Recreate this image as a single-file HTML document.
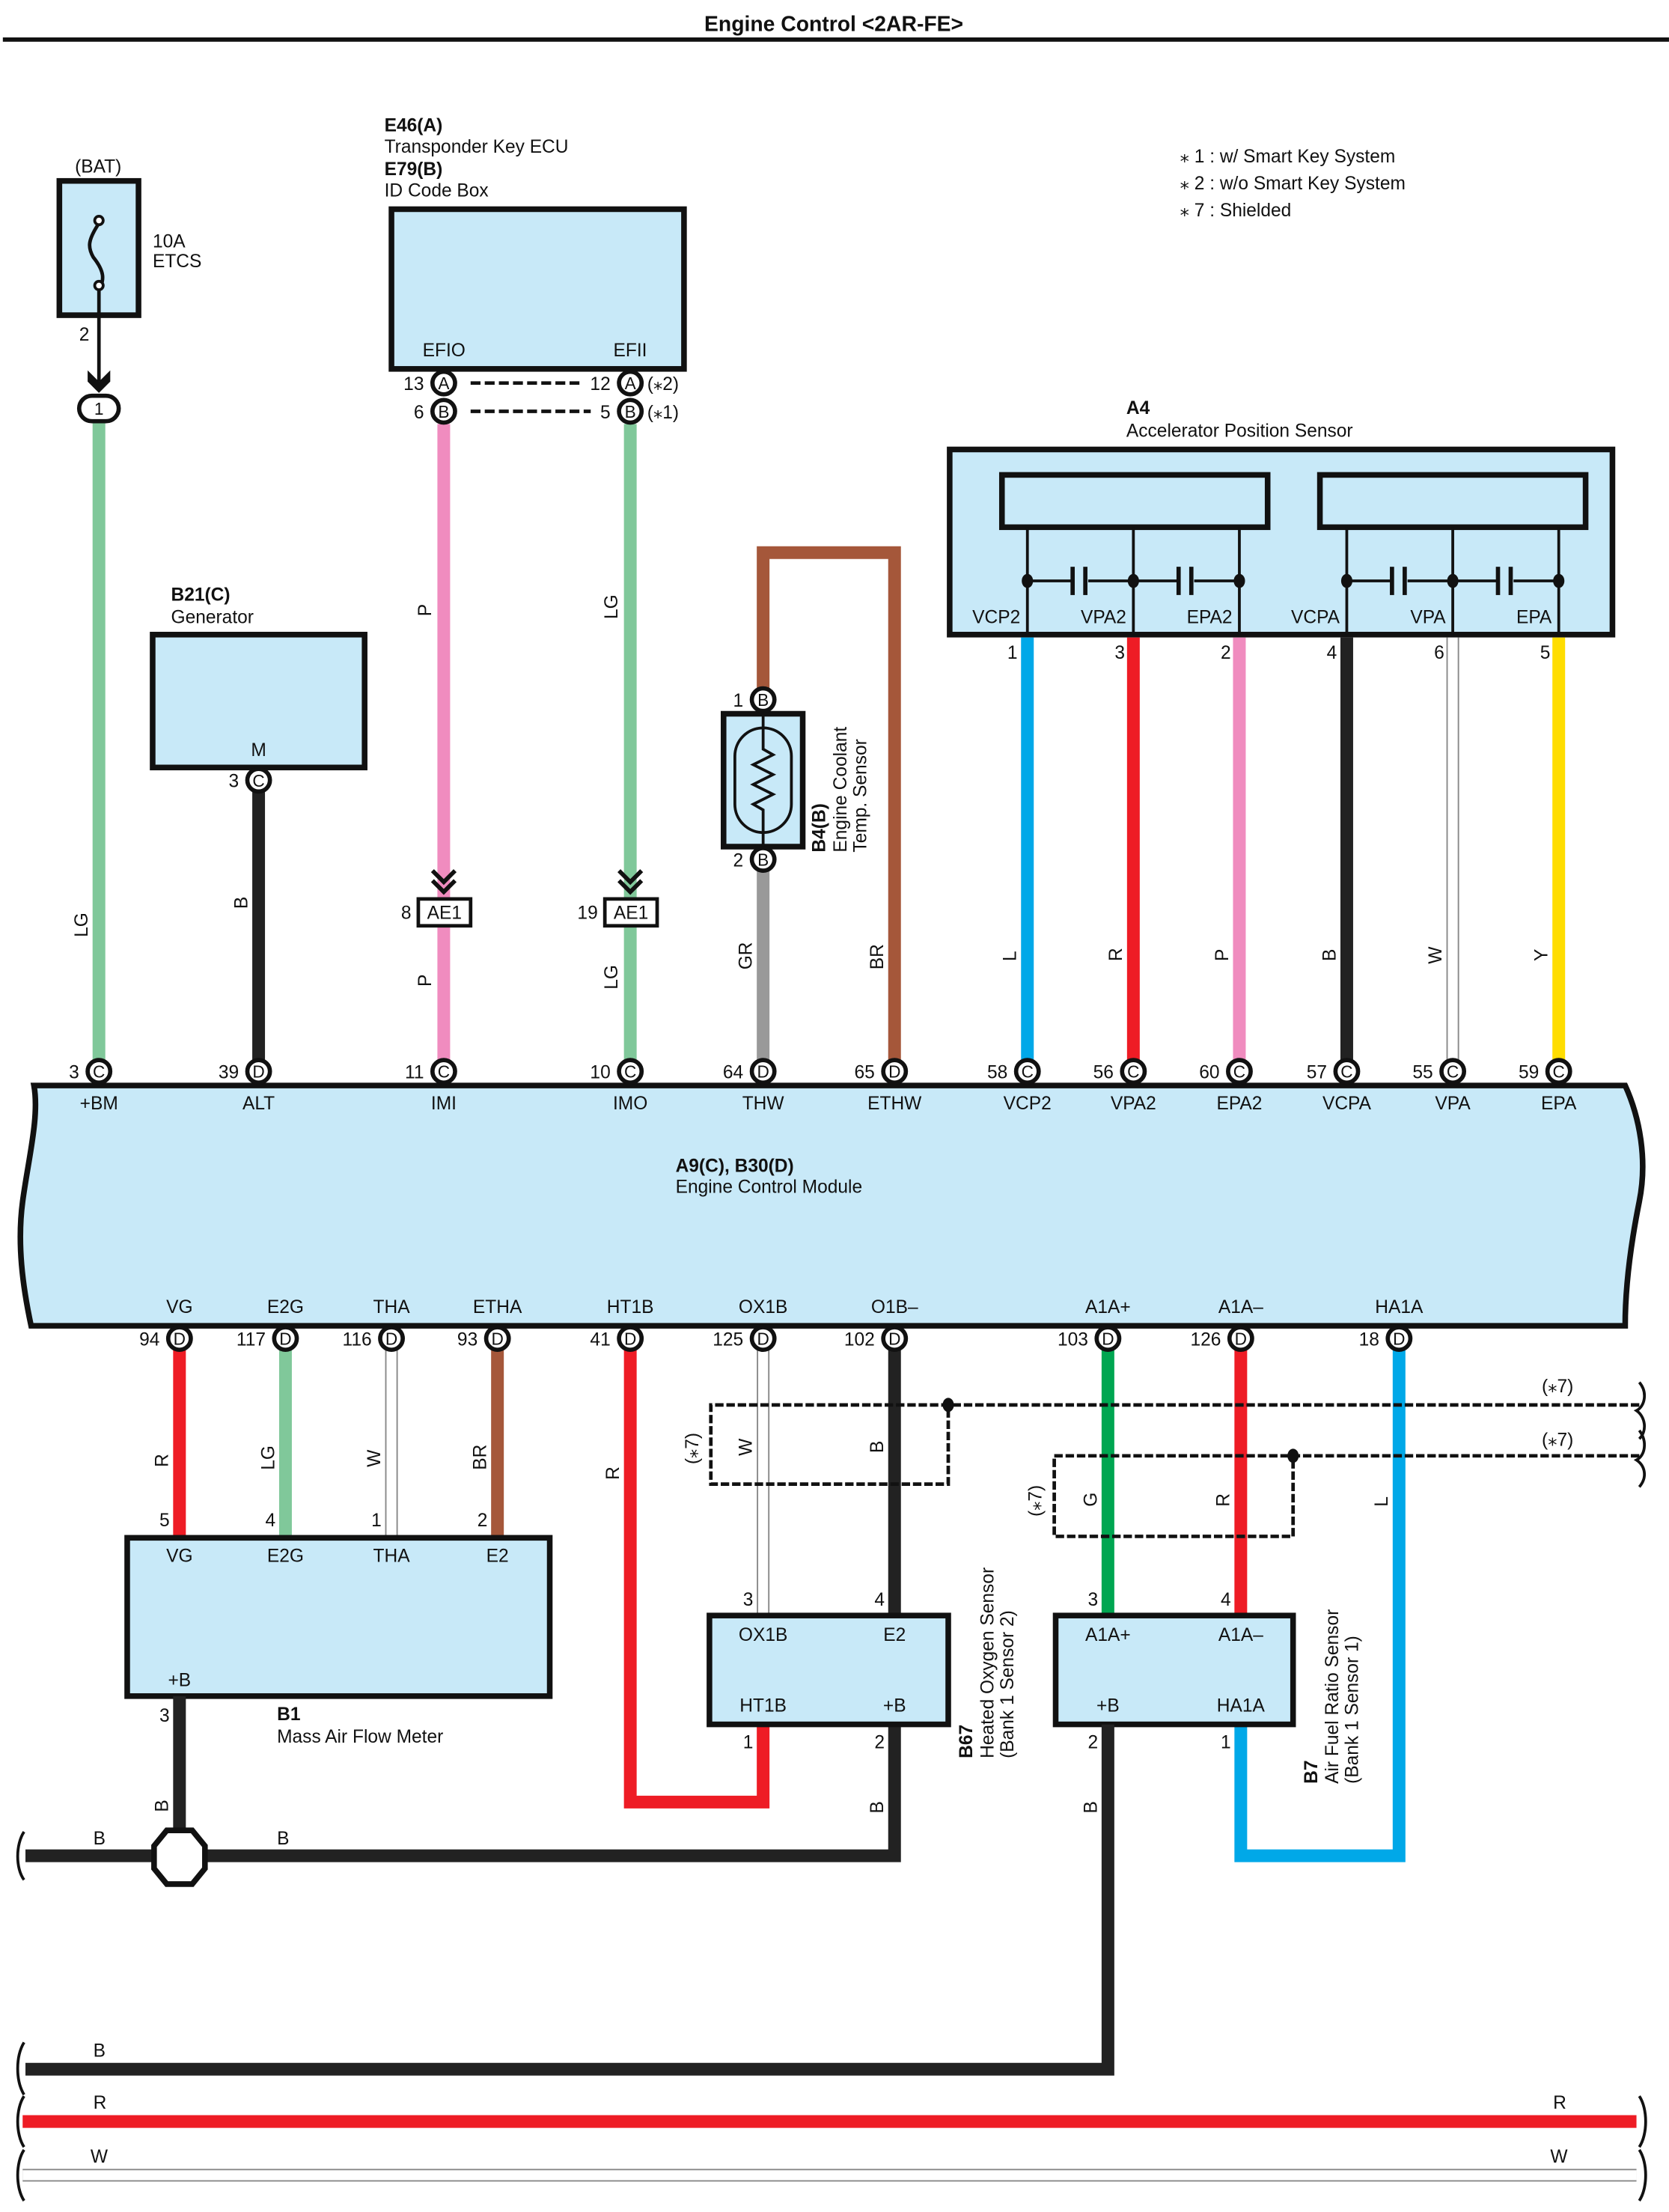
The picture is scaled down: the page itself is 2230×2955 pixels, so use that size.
<!DOCTYPE html>
<html><head><meta charset="utf-8"><style>
html,body{margin:0;padding:0;background:#fff}
svg{display:block}
text{font-family:"Liberation Sans",sans-serif;font-size:13px;fill:#111}
.b{font-weight:bold}
.c{text-anchor:middle}
.e{text-anchor:end}
</style></head><body>
<svg width="2230" height="2955" viewBox="0 0 1181 1565" xmlns="http://www.w3.org/2000/svg">
<defs>
<g id="pc"><circle r="8" fill="#fff" stroke="#111" stroke-width="3"/><text y="4.5" class="c" style="font-size:12px">C</text></g>
<g id="pd"><circle r="8" fill="#fff" stroke="#111" stroke-width="3"/><text y="4.5" class="c" style="font-size:12px">D</text></g>
<g id="pa"><circle r="8" fill="#fff" stroke="#111" stroke-width="3"/><text y="4.5" class="c" style="font-size:12px">A</text></g>
<g id="pb"><circle r="8" fill="#fff" stroke="#111" stroke-width="3"/><text y="4.5" class="c" style="font-size:12px">B</text></g>
</defs>
<text x="590" y="22" class="c b" style="font-size:15px">Engine Control &lt;2AR-FE&gt;</text>
<line x1="2" y1="28" x2="1181" y2="28" stroke="#111" stroke-width="3"/>

<text x="835" y="115">⁎ 1 : w/ Smart Key System</text>
<text x="835" y="134">⁎ 2 : w/o Smart Key System</text>
<text x="835" y="153">⁎ 7 : Shielded</text>

<!-- BAT fuse -->
<text x="53" y="122">(BAT)</text>
<rect x="42" y="128" width="56" height="95" fill="#c8e9f8" stroke="#111" stroke-width="4"/>
<path d="M70 158 C62 170 62 175 66 182 C74 192 74 198 70 205" fill="none" stroke="#111" stroke-width="2.5"/>
<circle cx="70" cy="156" r="3" fill="#fff" stroke="#111" stroke-width="2"/>
<circle cx="70" cy="202" r="3" fill="#fff" stroke="#111" stroke-width="2"/>
<text x="108" y="175">10A</text><text x="108" y="189">ETCS</text>
<line x1="70" y1="205" x2="70" y2="270" stroke="#111" stroke-width="2.5"/>
<text x="56" y="241">2</text>
<path d="M62 262 L70 270 L78 262 L78 270 L70 278 L62 270Z" fill="#111"/>
<line x1="70" y1="298" x2="70" y2="758" stroke="#80c89a" stroke-width="9"/>
<rect x="56" y="280" width="28" height="18" rx="9" fill="#fff" stroke="#111" stroke-width="3"/>
<text x="70" y="293.5" class="c" style="font-size:12px">1</text>
<text transform="translate(62 663) rotate(-90)">LG</text>

<!-- E46 -->
<text x="272" y="93" class="b">E46(A)</text>
<text x="272" y="108">Transponder Key ECU</text>
<text x="272" y="124" class="b">E79(B)</text>
<text x="272" y="139">ID Code Box</text>
<rect x="277" y="148" width="207" height="113" fill="#c8e9f8" stroke="#111" stroke-width="4"/>
<text x="299" y="252">EFIO</text><text x="434" y="252">EFII</text>
<line x1="333" y1="271" x2="410" y2="271" stroke="#111" stroke-width="2.5" stroke-dasharray="7 3"/>
<line x1="333" y1="291" x2="418" y2="291" stroke="#111" stroke-width="2.5" stroke-dasharray="7 3"/>
<line x1="314" y1="300" x2="314" y2="758" stroke="#f08cbf" stroke-width="9"/>
<line x1="446" y1="300" x2="446" y2="758" stroke="#80c89a" stroke-width="9"/>
<use href="#pa" x="314" y="271"/><use href="#pb" x="314" y="291"/>
<use href="#pa" x="446" y="271"/><use href="#pb" x="446" y="291"/>
<text x="300" y="276" class="e">13</text><text x="300" y="296" class="e">6</text>
<text x="432" y="276" class="e">12</text><text x="432" y="296" class="e">5</text>
<text x="458" y="276">(⁎2)</text><text x="458" y="296">(⁎1)</text>
<text transform="translate(305 436) rotate(-90)">P</text>
<text transform="translate(437 438) rotate(-90)">LG</text>
<path d="M306 616 L314 624 L322 616 M306 623 L314 631 L322 623" fill="none" stroke="#111" stroke-width="3"/>
<path d="M438 616 L446 624 L454 616 M438 623 L446 631 L454 623" fill="none" stroke="#111" stroke-width="3"/>
<rect x="296" y="636" width="37" height="19" fill="#fff" stroke="#111" stroke-width="2.5"/>
<text x="314.5" y="650" class="c">AE1</text><text x="291" y="650" class="e">8</text>
<rect x="428" y="636" width="37" height="19" fill="#fff" stroke="#111" stroke-width="2.5"/>
<text x="446.5" y="650" class="c">AE1</text><text x="423" y="650" class="e">19</text>
<text transform="translate(305 698) rotate(-90)">P</text>
<text transform="translate(437 700) rotate(-90)">LG</text>

<!-- B21 generator -->
<text x="121" y="425" class="b">B21(C)</text><text x="121" y="441">Generator</text>
<rect x="108" y="449" width="150" height="94" fill="#c8e9f8" stroke="#111" stroke-width="4"/>
<text x="183" y="535" class="c">M</text>
<line x1="183" y1="552" x2="183" y2="758" stroke="#222" stroke-width="9"/>
<use href="#pc" x="183" y="552"/><text x="169" y="557" class="e">3</text>
<text transform="translate(175 643) rotate(-90)">B</text>

<!-- B4 -->
<path d="M540 495 L540 391 L633 391 L633 758" fill="none" stroke="#a5573a" stroke-width="9"/>
<line x1="540" y1="608" x2="540" y2="758" stroke="#999" stroke-width="9"/>
<rect x="512" y="505" width="56" height="94" fill="#c8e9f8" stroke="#111" stroke-width="4"/>
<rect x="520" y="515" width="40" height="74" rx="20" fill="none" stroke="#111" stroke-width="2"/>
<path d="M540 505 L540 530 L547 534 L533 541 L547 548 L533 555 L547 562 L533 569 L540 573 L540 599" fill="none" stroke="#111" stroke-width="2"/>
<use href="#pb" x="540" y="495"/><use href="#pb" x="540" y="608"/>
<text x="526" y="500" class="e">1</text><text x="526" y="613" class="e">2</text>
<text transform="translate(584 603) rotate(-90)" class="b">B4(B)</text>
<text transform="translate(599 603) rotate(-90)">Engine Coolant</text>
<text transform="translate(613 603) rotate(-90)">Temp.  Sensor</text>
<text transform="translate(532 686) rotate(-90)">GR</text>
<text transform="translate(625 686) rotate(-90)">BR</text>

<!-- A4 -->
<text x="797" y="293" class="b">A4</text><text x="797" y="309">Accelerator Position Sensor</text>
<rect x="672" y="318" width="469" height="131" fill="#c8e9f8" stroke="#111" stroke-width="4"/>
<rect x="709" y="336" width="188" height="37" fill="none" stroke="#111" stroke-width="4"/>
<rect x="934" y="336" width="188" height="37" fill="none" stroke="#111" stroke-width="4"/>
<g stroke="#111" stroke-width="2">
<line x1="727" y1="373" x2="727" y2="449"/><line x1="802" y1="373" x2="802" y2="449"/><line x1="877" y1="373" x2="877" y2="449"/>
<line x1="953" y1="373" x2="953" y2="449"/><line x1="1028" y1="373" x2="1028" y2="449"/><line x1="1103" y1="373" x2="1103" y2="449"/>
<line x1="727" y1="411" x2="759" y2="411"/><line x1="770" y1="411" x2="802" y2="411"/>
<line x1="802" y1="411" x2="834" y2="411"/><line x1="845" y1="411" x2="877" y2="411"/>
<line x1="953" y1="411" x2="985" y2="411"/><line x1="996" y1="411" x2="1028" y2="411"/>
<line x1="1028" y1="411" x2="1060" y2="411"/><line x1="1071" y1="411" x2="1103" y2="411"/>
</g>
<g stroke="#111" stroke-width="3">
<line x1="759" y1="401" x2="759" y2="421"/><line x1="768" y1="401" x2="768" y2="421"/>
<line x1="834" y1="401" x2="834" y2="421"/><line x1="843" y1="401" x2="843" y2="421"/>
<line x1="985" y1="401" x2="985" y2="421"/><line x1="994" y1="401" x2="994" y2="421"/>
<line x1="1060" y1="401" x2="1060" y2="421"/><line x1="1069" y1="401" x2="1069" y2="421"/>
</g>
<g fill="#111"><ellipse cx="727" cy="411" rx="4" ry="5"/><ellipse cx="802" cy="411" rx="4" ry="5"/><ellipse cx="877" cy="411" rx="4" ry="5"/><ellipse cx="953" cy="411" rx="4" ry="5"/><ellipse cx="1028" cy="411" rx="4" ry="5"/><ellipse cx="1103" cy="411" rx="4" ry="5"/></g>
<text x="722" y="441" class="e">VCP2</text><text x="797" y="441" class="e">VPA2</text><text x="872" y="441" class="e">EPA2</text>
<text x="948" y="441" class="e">VCPA</text><text x="1023" y="441" class="e">VPA</text><text x="1098" y="441" class="e">EPA</text>
<line x1="727" y1="451" x2="727" y2="758" stroke="#00a8e8" stroke-width="9"/>
<line x1="802" y1="451" x2="802" y2="758" stroke="#ee1c25" stroke-width="9"/>
<line x1="877" y1="451" x2="877" y2="758" stroke="#f08cbf" stroke-width="9"/>
<line x1="953" y1="451" x2="953" y2="758" stroke="#222" stroke-width="9"/>
<line x1="1028" y1="451" x2="1028" y2="758" stroke="#888" stroke-width="9"/>
<line x1="1028" y1="451" x2="1028" y2="758" stroke="#fff" stroke-width="7"/>
<line x1="1103" y1="451" x2="1103" y2="758" stroke="#ffdd00" stroke-width="9"/>
<text x="720" y="466" class="e">1</text><text x="796" y="466" class="e">3</text><text x="871" y="466" class="e">2</text>
<text x="946" y="466" class="e">4</text><text x="1022" y="466" class="e">6</text><text x="1097" y="466" class="e">5</text>
<text transform="translate(719 680) rotate(-90)">L</text>
<text transform="translate(794 680) rotate(-90)">R</text>
<text transform="translate(869 680) rotate(-90)">P</text>
<text transform="translate(945 680) rotate(-90)">B</text>
<text transform="translate(1020 682) rotate(-90)">W</text>
<text transform="translate(1095 680) rotate(-90)">Y</text>

<!-- ECM -->
<path d="M24 768 L1150 768 C1160 790 1166 820 1160 850 C1154 880 1150 910 1150 938 L22 938 C16 910 12 880 16 850 C20 820 28 790 24 768Z" fill="#c8e9f8" stroke="#111" stroke-width="4"/>
<g>
<use href="#pc" x="70" y="758"/><text x="56" y="763" class="e">3</text><text x="70" y="785" class="c">+BM</text>
<use href="#pd" x="183" y="758"/><text x="169" y="763" class="e">39</text><text x="183" y="785" class="c">ALT</text>
<use href="#pc" x="314" y="758"/><text x="300" y="763" class="e">11</text><text x="314" y="785" class="c">IMI</text>
<use href="#pc" x="446" y="758"/><text x="432" y="763" class="e">10</text><text x="446" y="785" class="c">IMO</text>
<use href="#pd" x="540" y="758"/><text x="526" y="763" class="e">64</text><text x="540" y="785" class="c">THW</text>
<use href="#pd" x="633" y="758"/><text x="619" y="763" class="e">65</text><text x="633" y="785" class="c">ETHW</text>
<use href="#pc" x="727" y="758"/><text x="713" y="763" class="e">58</text><text x="727" y="785" class="c">VCP2</text>
<use href="#pc" x="802" y="758"/><text x="788" y="763" class="e">56</text><text x="802" y="785" class="c">VPA2</text>
<use href="#pc" x="877" y="758"/><text x="863" y="763" class="e">60</text><text x="877" y="785" class="c">EPA2</text>
<use href="#pc" x="953" y="758"/><text x="939" y="763" class="e">57</text><text x="953" y="785" class="c">VCPA</text>
<use href="#pc" x="1028" y="758"/><text x="1014" y="763" class="e">55</text><text x="1028" y="785" class="c">VPA</text>
<use href="#pc" x="1103" y="758"/><text x="1089" y="763" class="e">59</text><text x="1103" y="785" class="c">EPA</text>
</g>
<text x="478" y="829" class="b">A9(C), B30(D)</text><text x="478" y="844">Engine Control Module</text>

<!-- bottom wires -->
<line x1="127" y1="947" x2="127" y2="1088" stroke="#ee1c25" stroke-width="9"/>
<line x1="202" y1="947" x2="202" y2="1088" stroke="#80c89a" stroke-width="9"/>
<line x1="277" y1="947" x2="277" y2="1088" stroke="#888" stroke-width="9"/>
<line x1="277" y1="947" x2="277" y2="1088" stroke="#fff" stroke-width="7"/>
<line x1="352" y1="947" x2="352" y2="1088" stroke="#a5573a" stroke-width="9"/>
<path d="M446 947 L446 1275 L540 1275 L540 1220" fill="none" stroke="#ee1c25" stroke-width="9"/>
<line x1="540" y1="947" x2="540" y2="1143" stroke="#888" stroke-width="9"/>
<line x1="540" y1="947" x2="540" y2="1143" stroke="#fff" stroke-width="7"/>
<line x1="633" y1="947" x2="633" y2="1143" stroke="#222" stroke-width="9"/>
<line x1="784" y1="947" x2="784" y2="1143" stroke="#00a651" stroke-width="9"/>
<line x1="878" y1="947" x2="878" y2="1143" stroke="#ee1c25" stroke-width="9"/>
<path d="M990 947 L990 1313 L878 1313 L878 1220" fill="none" stroke="#00a8e8" stroke-width="9"/>
<g>
<use href="#pd" x="127" y="947"/><text x="113" y="952" class="e">94</text><text x="127" y="929" class="c">VG</text>
<use href="#pd" x="202" y="947"/><text x="188" y="952" class="e">117</text><text x="202" y="929" class="c">E2G</text>
<use href="#pd" x="277" y="947"/><text x="263" y="952" class="e">116</text><text x="277" y="929" class="c">THA</text>
<use href="#pd" x="352" y="947"/><text x="338" y="952" class="e">93</text><text x="352" y="929" class="c">ETHA</text>
<use href="#pd" x="446" y="947"/><text x="432" y="952" class="e">41</text><text x="446" y="929" class="c">HT1B</text>
<use href="#pd" x="540" y="947"/><text x="526" y="952" class="e">125</text><text x="540" y="929" class="c">OX1B</text>
<use href="#pd" x="633" y="947"/><text x="619" y="952" class="e">102</text><text x="633" y="929" class="c">O1B–</text>
<use href="#pd" x="784" y="947"/><text x="770" y="952" class="e">103</text><text x="784" y="929" class="c">A1A+</text>
<use href="#pd" x="878" y="947"/><text x="864" y="952" class="e">126</text><text x="878" y="929" class="c">A1A–</text>
<use href="#pd" x="990" y="947"/><text x="976" y="952" class="e">18</text><text x="990" y="929" class="c">HA1A</text>
</g>
<text transform="translate(119 1038) rotate(-90)">R</text>
<text transform="translate(194 1040) rotate(-90)">LG</text>
<text transform="translate(269 1038) rotate(-90)">W</text>
<text transform="translate(344 1040) rotate(-90)">BR</text>
<text transform="translate(438 1047) rotate(-90)">R</text>
<text transform="translate(532 1030) rotate(-90)">W</text>
<text transform="translate(625 1028) rotate(-90)">B</text>
<text transform="translate(776 1066) rotate(-90)">G</text>
<text transform="translate(870 1066) rotate(-90)">R</text>
<text transform="translate(982 1066) rotate(-90)">L</text>

<!-- shields -->
<g fill="none" stroke="#111" stroke-width="2.5" stroke-dasharray="6 2">
<path d="M1160 994 L503 994 L503 1050 L671 1050 L671 994"/>
<path d="M1160 1030 L746 1030 L746 1087 L915 1087 L915 1030"/>
</g>
<ellipse cx="671" cy="994" rx="4" ry="5" fill="#111"/>
<ellipse cx="915" cy="1030" rx="4" ry="5" fill="#111"/>
<text transform="translate(494 1036) rotate(-90)">(⁎7)</text>
<text transform="translate(737 1073) rotate(-90)">(⁎7)</text>
<text x="1091" y="985">(⁎7)</text><text x="1091" y="1023">(⁎7)</text>
<path d="M1160 978 C1166 985 1164 995 1158 998 C1164 1002 1166 1012 1160 1018" fill="none" stroke="#111" stroke-width="2"/>
<path d="M1160 1012 C1166 1020 1164 1030 1158 1033 C1164 1037 1166 1045 1160 1052" fill="none" stroke="#111" stroke-width="2"/>

<!-- B1 -->
<rect x="90" y="1088" width="299" height="112" fill="#c8e9f8" stroke="#111" stroke-width="4"/>
<text x="127" y="1105" class="c">VG</text><text x="202" y="1105" class="c">E2G</text><text x="277" y="1105" class="c">THA</text><text x="352" y="1105" class="c">E2</text>
<text x="120" y="1080" class="e">5</text><text x="195" y="1080" class="e">4</text><text x="270" y="1080" class="e">1</text><text x="345" y="1080" class="e">2</text>
<text x="127" y="1193" class="c">+B</text>
<text x="196" y="1217" class="b">B1</text><text x="196" y="1233">Mass Air Flow Meter</text>
<text x="120" y="1218" class="e">3</text>
<line x1="127" y1="1200" x2="127" y2="1295" stroke="#222" stroke-width="9"/>
<text transform="translate(119 1282) rotate(-90)">B</text>
<path d="M18 1313 L633 1313 L633 1220" fill="none" stroke="#222" stroke-width="9"/>
<polygon points="118,1295 136,1295 145,1306 145,1322 136,1333 118,1333 109,1322 109,1306" fill="#fff" stroke="#111" stroke-width="4"/>
<text x="66" y="1305">B</text><text x="196" y="1305">B</text>
<path d="M17 1296 C11 1305 11 1322 17 1330" fill="none" stroke="#111" stroke-width="2"/>

<!-- B67 -->
<rect x="502" y="1143" width="169" height="77" fill="#c8e9f8" stroke="#111" stroke-width="4"/>
<text x="540" y="1161" class="c">OX1B</text><text x="633" y="1161" class="c">E2</text>
<text x="540" y="1211" class="c">HT1B</text><text x="633" y="1211" class="c">+B</text>
<text x="533" y="1136" class="e">3</text><text x="626" y="1136" class="e">4</text>
<text x="533" y="1237" class="e">1</text><text x="626" y="1237" class="e">2</text>
<text transform="translate(625 1283) rotate(-90)">B</text>
<text transform="translate(688 1244) rotate(-90)" class="b">B67</text>
<text transform="translate(703 1244) rotate(-90)">Heated Oxygen Sensor</text>
<text transform="translate(717 1244) rotate(-90)">(Bank 1 Sensor 2)</text>

<!-- B7 -->
<rect x="747" y="1143" width="168" height="77" fill="#c8e9f8" stroke="#111" stroke-width="4"/>
<text x="784" y="1161" class="c">A1A+</text><text x="878" y="1161" class="c">A1A–</text>
<text x="784" y="1211" class="c">+B</text><text x="878" y="1211" class="c">HA1A</text>
<text x="777" y="1136" class="e">3</text><text x="871" y="1136" class="e">4</text>
<text x="777" y="1237" class="e">2</text><text x="871" y="1237" class="e">1</text>
<path d="M784 1220 L784 1464 L18 1464" fill="none" stroke="#222" stroke-width="9"/>
<text transform="translate(776 1283) rotate(-90)">B</text>
<text transform="translate(932 1262) rotate(-90)" class="b">B7</text>
<text transform="translate(947 1262) rotate(-90)">Air Fuel Ratio Sensor</text>
<text transform="translate(961 1262) rotate(-90)">(Bank 1 Sensor 1)</text>

<!-- bottom buses -->
<text x="66" y="1455">B</text>
<line x1="16" y1="1501" x2="1158" y2="1501" stroke="#ee1c25" stroke-width="9"/>
<text x="66" y="1492">R</text><text x="1099" y="1492">R</text>
<line x1="16" y1="1539" x2="1158" y2="1539" stroke="#888" stroke-width="9"/>
<line x1="16" y1="1539" x2="1158" y2="1539" stroke="#fff" stroke-width="7"/>
<text x="64" y="1530">W</text><text x="1097" y="1530">W</text>
<g fill="none" stroke="#111" stroke-width="2">
<path d="M17 1445 C11 1455 11 1472 17 1482"/>
<path d="M17 1483 C11 1492 11 1510 17 1519"/>
<path d="M17 1521 C11 1530 11 1548 17 1557"/>
<path d="M1160 1483 C1166 1492 1166 1510 1160 1519"/>
<path d="M1160 1521 C1166 1530 1166 1548 1160 1557"/>
</g>
</svg>
</body></html>
